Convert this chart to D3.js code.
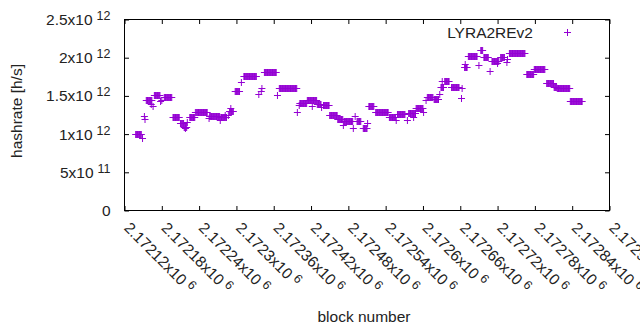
<!DOCTYPE html>
<html><head><meta charset="utf-8">
<script src="https://cdn.jsdelivr.net/npm/d3@7"></script>
<style>body{margin:0;background:#fff} text{font-family:"Liberation Sans",Arial,sans-serif}</style>
</head><body><svg id="c" width="640" height="330"></svg>
<script>
const seriesName = "LYRA2REv2";
// runs of consecutive blocks sharing the same hashrate estimate (start block, end block, value h/s)
const runStart = [2172138,2172149,2172152,2172153,2172155,2172163,2172166,2172168,2172178,2172180,
  2172184,2172198,2172210,2172216,2172218,2172221,2172225,2172234,2172236,2172256,
  2172257,2172274,2172275,2172282,2172287,2172289,2172291,2172298,2172308,2172312,
  2172336,2172340,2172341,2172345,2172366,2172369,2172398,2172401,2172402,2172414,
  2172422,2172430,2172437,2172440,2172450,2172463,2172472,2172473,2172488,2172491,
  2172494,2172504,2172511,2172513,2172524,2172546,2172557,2172559,2172575,2172577,
  2172585,2172589,2172601,2172605,2172607,2172618,2172627,2172629,2172631,2172635,
  2172646,2172662,2172663,2172667,2172668,2172673,2172690,2172693,2172698,2172708,
  2172711,2172720,2172725,2172735,2172736,2172739,2172767,2172779,2172780,2172799,
  2172811,2172816,2172837];
const runEnd = [2172147,2172149,2172152,2172153,2172164,2172163,2172166,2172177,2172178,2172180,
  2172196,2172208,2172215,2172220,2172218,2172221,2172233,2172234,2172253,2172256,
  2172273,2172274,2172284,2172282,2172287,2172295,2172291,2172305,2172308,2172332,
  2172336,2172340,2172341,2172364,2172366,2172397,2172398,2172401,2172413,2172429,
  2172422,2172436,2172437,2172449,2172462,2172471,2172472,2172487,2172488,2172491,
  2172500,2172510,2172511,2172521,2172544,2172556,2172557,2172571,2172575,2172588,
  2172585,2172600,2172601,2172605,2172616,2172625,2172627,2172633,2172631,2172642,
  2172658,2172662,2172663,2172671,2172668,2172687,2172690,2172696,2172705,2172708,
  2172722,2172720,2172731,2172735,2172736,2172764,2172778,2172779,2172796,2172810,
  2172815,2172836,2172856];
const runHashrate = [1.00e12,0.95e12,1.24e12,1.20e12,1.445e12,1.40e12,1.365e12,1.514e12,1.436e12,1.45e12,
  1.484e12,1.227e12,1.145e12,1.097e12,1.074e12,1.153e12,1.223e12,1.283e12,1.292e12,1.205e12,
  1.236e12,1.18e12,1.218e12,1.253e12,1.247e12,1.30e12,1.345e12,1.563e12,1.684e12,1.758e12,
  1.527e12,1.566e12,1.606e12,1.81e12,1.518e12,1.60e12,1.292e12,1.38e12,1.406e12,1.44e12,
  1.371e12,1.393e12,1.354e12,1.38e12,1.245e12,1.20e12,1.119e12,1.171e12,1.084e12,1.231e12,
  1.171e12,1.074e12,1.145e12,1.367e12,1.292e12,1.218e12,1.18e12,1.262e12,1.18e12,1.27e12,
  1.223e12,1.341e12,1.292e12,1.44e12,1.484e12,1.458e12,1.527e12,1.619e12,1.693e12,1.693e12,
  1.615e12,1.466e12,1.597e12,1.88e12,1.92e12,2.02e12,1.902e12,2.098e12,2.006e12,1.832e12,
  1.958e12,1.936e12,2.006e12,1.945e12,1.984e12,2.063e12,1.782e12,1.858e12,1.85e12,1.664e12,
  1.623e12,1.60e12,1.43e12];

const xTickBlocks = [2172120,2172180,2172240,2172300,2172360,2172420,2172480,2172540,2172600,2172660,2172720,2172780,2172840,2172900];
const xTickMantissa = ["2.17212","2.17218","2.17224","2.1723","2.17236","2.17242","2.17248","2.17254","2.1726","2.17266","2.17272","2.17278","2.17284","2.1729"];
const xTickExponent = ["6","6","6","6","6","6","6","6","6","6","6","6","6","6"];
const yTickValues = [0,5e11,1e12,1.5e12,2e12,2.5e12];
const yTickMantissa = ["0","5","1","1.5","2","2.5"];
const yTickExponent = ["","11","12","12","12","12"];
const xTitle = "block number";
const yTitle = "hashrate [h/s]";

const color = "#9400d3";
const FS = 15.5;
const L = 124.5, R = 609.5, T = 19.5, B = 210.5;
const svg = d3.select("#c");
const xs = d3.scaleLinear().domain([xTickBlocks[0], xTickBlocks[xTickBlocks.length-1]]).range([L, R]);
const ys = d3.scaleLinear().domain([yTickValues[0], yTickValues[yTickValues.length-1]]).range([B, T]);

// expand runs into per-block points
const points = [];
runStart.forEach((s, i) => { for (let b = s; b <= runEnd[i]; b++) points.push({block: b, hashrate: runHashrate[i]}); });

const tk = 4.5;
function styleAxis(g){ g.attr("font-size", FS).attr("font-family", null); g.selectAll("line").attr("stroke","#000"); g.select(".domain").remove(); }

// left axis
const gl = svg.append("g").attr("transform", `translate(${L},0)`)
  .call(d3.axisLeft(ys).tickValues(yTickValues).tickSize(-tk).tickPadding(14)
    .tickFormat((d,i) => yTickExponent[i] ? yTickMantissa[i] + "x10" : yTickMantissa[i]));
styleAxis(gl);
gl.selectAll(".tick text").attr("fill","#222").each(function(d,i){
  if (yTickExponent[i]) d3.select(this).append("tspan").attr("dx", 4).attr("dy", -5).attr("font-size", 12.5).text(yTickExponent[i]);
});
// right mirror
const gr = svg.append("g").attr("transform", `translate(${R},0)`)
  .call(d3.axisRight(ys).tickValues(yTickValues).tickSize(-tk).tickFormat(""));
styleAxis(gr);
// top mirror
const gt = svg.append("g").attr("transform", `translate(0,${T})`)
  .call(d3.axisTop(xs).tickValues(xTickBlocks).tickSize(-tk).tickFormat(""));
styleAxis(gt);
// bottom axis
const gb = svg.append("g").attr("transform", `translate(0,${B})`)
  .call(d3.axisBottom(xs).tickValues(xTickBlocks).tickSize(-tk)
    .tickFormat((d,i) => xTickMantissa[i] + "x10"));
styleAxis(gb);
gb.selectAll(".tick text").attr("fill","#222").attr("text-anchor","start")
  .attr("y", null).attr("dy", "0.35em").attr("transform", "translate(2,14.5) rotate(45)")
  .each(function(d,i){ d3.select(this).append("tspan").attr("dx", 4).attr("dy", -5).attr("font-size", 12.5).text(xTickExponent[i]); });

// border
svg.append("rect").attr("x", L).attr("y", T).attr("width", R-L).attr("height", B-T)
  .attr("fill","none").attr("stroke","#000").attr("stroke-width",1);

// titles
svg.append("text").attr("x", 364).attr("y", 322).attr("text-anchor","middle").attr("font-size", FS).attr("fill","#222").text(xTitle);
svg.append("text").attr("transform","translate(22,111) rotate(-90)").attr("text-anchor","middle").attr("font-size", FS).attr("fill","#222").text(yTitle);

// points
const plus = (x, y) => `M${x-3.5},${y}H${x+3.5}M${x},${y-3.5}V${y+3.5}`;
svg.append("g").attr("stroke", color).attr("stroke-width", 1).attr("fill","none")
  .selectAll("path").data(points).join("path")
  .attr("d", d => plus(xs(d.block), Math.round(ys(d.hashrate)) + 0.5));

// legend
svg.append("text").attr("x", 533).attr("y", 37.5).attr("text-anchor","end").attr("font-size", FS).attr("fill","#222").text(seriesName);
svg.append("path").attr("stroke", color).attr("fill","none").attr("d", plus(567.5, 32.5));
</script></body></html>
